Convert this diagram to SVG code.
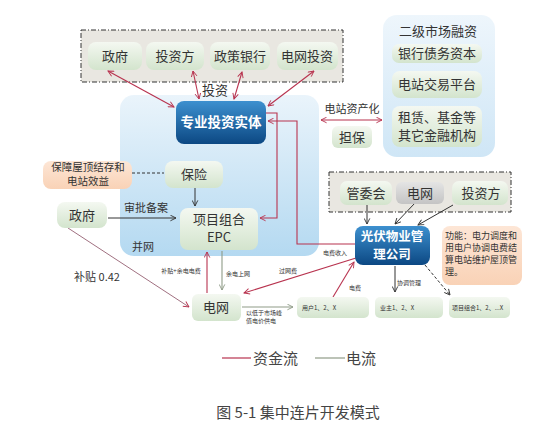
<svg xmlns="http://www.w3.org/2000/svg" width="548" height="426" viewBox="0 0 548 426">
<defs>
<linearGradient id="gGreen" x1="0" y1="0" x2="0" y2="1"><stop offset="0" stop-color="#f4f8f1"/><stop offset="1" stop-color="#d3e4cd"/></linearGradient>
<linearGradient id="gGrey" x1="0" y1="0" x2="0" y2="1"><stop offset="0" stop-color="#e4e4e4"/><stop offset="1" stop-color="#c4c4c4"/></linearGradient>
<linearGradient id="gBlue" x1="0" y1="0" x2="0" y2="1"><stop offset="0" stop-color="#3d90cf"/><stop offset="1" stop-color="#0c4883"/></linearGradient>
<linearGradient id="gRegion" x1="0" y1="0" x2="0" y2="1"><stop offset="0" stop-color="#eaf4fb"/><stop offset="1" stop-color="#b4d9f1"/></linearGradient>
<linearGradient id="gRegion2" x1="0" y1="0" x2="0" y2="1"><stop offset="0" stop-color="#eef6fc"/><stop offset="1" stop-color="#cfe6f6"/></linearGradient>
<linearGradient id="gOrange" x1="0" y1="0" x2="0" y2="1"><stop offset="0" stop-color="#fde6d6"/><stop offset="1" stop-color="#f9d2b6"/></linearGradient>
<marker id="aR" viewBox="0 0 10 10" refX="9" refY="5" markerWidth="7" markerHeight="7" orient="auto-start-reverse" markerUnits="userSpaceOnUse"><path d="M1,1 L9,5 L1,9" fill="none" stroke="#b8334f" stroke-width="1.3"/></marker>
<marker id="aG" viewBox="0 0 10 10" refX="9" refY="5" markerWidth="7" markerHeight="7" orient="auto" markerUnits="userSpaceOnUse"><path d="M1,1 L9,5 L1,9" fill="none" stroke="#8f9c88" stroke-width="1.3"/></marker>
<marker id="aK" viewBox="0 0 10 10" refX="9" refY="5" markerWidth="7" markerHeight="7" orient="auto" markerUnits="userSpaceOnUse"><path d="M1,1 L9,5 L1,9" fill="none" stroke="#333" stroke-width="1.3"/></marker>
<style>
text{font-family:"Noto Sans CJK SC","Noto Sans",sans-serif;fill:#333;text-anchor:middle}
.n{fill:url(#gGreen)}
.t13{font-size:13px}
.t11{font-size:11px}
.t10{font-size:10.5px}
.t6{font-size:6px}
.t9{font-size:9px;text-anchor:start}
.w{fill:#fff;font-weight:bold;font-size:13.5px}
.w2{fill:#fff;font-weight:bold;font-size:12.5px}
.red{stroke:#b8334f;stroke-width:1.1;fill:none}
.grn{stroke:#8f9c88;stroke-width:1.1;fill:none}
.blk{stroke:#333;stroke-width:1;fill:none}
</style>
</defs>
<rect width="548" height="426" fill="#fff"/>

<g id="regions">
<rect id="top-group" x="81" y="30" width="262" height="52" fill="#e9e7e1" stroke="#333" stroke-width="1" stroke-dasharray="5,2,1,2"/>
<rect id="invest-region" x="120" y="95" width="199" height="161" rx="14" fill="url(#gRegion)"/>
<rect id="secondary-region" x="383" y="15" width="112" height="142" rx="14" fill="url(#gRegion2)"/>
<rect id="mgmt-group" x="329" y="172" width="182" height="40" fill="#e9e7e1" stroke="#333" stroke-width="1" stroke-dasharray="5,2,1,2"/>
</g>

<g id="connectors">
<line class="red" x1="108" y1="71" x2="174" y2="107" marker-start="url(#aR)" marker-end="url(#aR)"/>
<line class="red" x1="193" y1="71" x2="199" y2="99" marker-start="url(#aR)" marker-end="url(#aR)"/>
<line class="red" x1="242" y1="72" x2="234" y2="99" marker-start="url(#aR)" marker-end="url(#aR)"/>
<line class="red" x1="314" y1="71" x2="268" y2="106" marker-start="url(#aR)" marker-end="url(#aR)"/>
<line class="red" x1="321" y1="120" x2="382" y2="120" marker-start="url(#aR)" marker-end="url(#aR)"/>
<polyline class="red" points="266,113 277,113 277,218 260,218" marker-end="url(#aR)"/>
<polyline class="red" points="355,244 297,244 297,121 268,121" marker-end="url(#aR)"/>
<line x1="132" y1="173" x2="164" y2="173" stroke="#333" stroke-width="1" stroke-dasharray="3,2"/>
<line class="blk" x1="195" y1="188" x2="195" y2="206" marker-end="url(#aK)"/>
<line class="blk" x1="108" y1="218" x2="176" y2="218" marker-end="url(#aK)"/>
<line class="red" x1="207" y1="293" x2="207" y2="252" marker-end="url(#aR)"/>
<line class="grn" x1="222" y1="251" x2="222" y2="290" marker-end="url(#aG)"/>
<line x1="68" y1="228" x2="189" y2="307" stroke="#a07080" stroke-width="1" marker-end="url(#aR)"/>
<line class="red" x1="356" y1="258" x2="244" y2="293" marker-end="url(#aR)"/>
<line class="red" x1="333" y1="297" x2="354" y2="262" marker-end="url(#aR)"/>
<line class="grn" x1="242" y1="307" x2="293" y2="307" marker-end="url(#aG)"/>
<line class="blk" x1="367" y1="205" x2="367" y2="224" marker-end="url(#aK)"/>
<line class="blk" x1="415" y1="203" x2="395" y2="224" marker-end="url(#aK)"/>
<line class="blk" x1="453" y1="205" x2="418" y2="225" marker-end="url(#aK)"/>
<line class="blk" x1="395" y1="266" x2="395" y2="292" marker-end="url(#aK)"/>
<line class="blk" x1="425" y1="265" x2="450" y2="295" stroke-dasharray="3,2" marker-end="url(#aK)"/>
</g>

<g id="labels">
<text class="t13" x="215" y="95">投资</text>
<text class="t11" x="352" y="113">电站资产化</text>
<text class="t11" x="146" y="212">审批备案</text>
<text class="t11" x="143" y="251" fill="#333">并网</text>
<text class="t11" x="97" y="281">补贴 0.42</text>
<text class="t6" x="181" y="273">补贴+余电电费</text>
<text class="t6" x="238" y="276">余电上网</text>
<text class="t6" x="288" y="273">过网费</text>
<text class="t6" x="335" y="255">电费收入</text>
<text class="t6" x="355" y="290">电费</text>
<text class="t6" x="409" y="285">协调管理</text>
<text class="t6" x="246" y="315" style="text-anchor:start">以低于市场峰</text>
<text class="t6" x="246" y="323" style="text-anchor:start">值电价供电</text>
</g>

<g id="n-gov-top"><rect class="n" x="88" y="42" width="54" height="28" rx="8"/><text class="t13" x="115" y="61">政府</text></g>
<g id="n-investor-top"><rect class="n" x="146" y="42" width="58" height="28" rx="8"/><text class="t13" x="175" y="61">投资方</text></g>
<g id="n-policy-bank"><rect class="n" x="210" y="42" width="60" height="28" rx="8"/><text class="t13" x="240" y="61">政策银行</text></g>
<g id="n-grid-invest"><rect class="n" x="277" y="42" width="61" height="28" rx="8"/><text class="t13" x="307" y="61">电网投资</text></g>

<g id="n-entity"><rect x="176" y="101" width="90" height="43" rx="8" fill="url(#gBlue)"/><text class="w" x="221" y="127">专业投资实体</text></g>

<g id="n-secondary-title"><text class="t13" x="438" y="36">二级市场融资</text></g>
<g id="n-bank-debt"><rect class="n" x="392" y="44" width="90" height="19" rx="7"/><text class="t13" x="437" y="58">银行债务资本</text></g>
<g id="n-trade"><rect class="n" x="392" y="71" width="90" height="27" rx="8"/><text class="t13" x="437" y="89">电站交易平台</text></g>
<g id="n-lease"><rect class="n" x="392" y="106" width="90" height="41" rx="8"/><text class="t13" x="437" y="122">租赁、基金等</text><text class="t13" x="437" y="140">其它金融机构</text></g>

<g id="n-guarantee"><rect class="n" x="332" y="126" width="40" height="22" rx="6"/><text class="t13" x="352" y="142">担保</text></g>

<g id="n-roof"><rect x="43" y="161" width="89" height="28" rx="8" fill="url(#gOrange)"/><text class="t10" x="88" y="171">保障屋顶结存和</text><text class="t10" x="88" y="185">电站效益</text></g>
<g id="n-insurance"><rect class="n" x="165" y="161" width="58" height="27" rx="8"/><text class="t13" x="194" y="179">保险</text></g>
<g id="n-gov-left"><rect class="n" x="57" y="202" width="50" height="26" rx="8"/><text class="t13" x="82" y="220">政府</text></g>
<g id="n-epc"><rect class="n" x="180" y="208" width="78" height="42" rx="8"/><text class="t13" x="219" y="224">项目组合</text><text class="t13" x="219" y="242">EPC</text></g>

<g id="n-committee"><rect class="n" x="340" y="181" width="52" height="24" rx="7"/><text class="t13" x="366" y="198">管委会</text></g>
<g id="n-grid-mgmt"><rect x="396" y="182" width="48" height="22" rx="6" fill="url(#gGrey)"/><text class="t13" x="420" y="198">电网</text></g>
<g id="n-investor-mgmt"><rect class="n" x="452" y="181" width="56" height="24" rx="7"/><text class="t13" x="481" y="198">投资方</text></g>

<g id="n-pv-mgmt"><rect x="355" y="226" width="75" height="39" rx="8" fill="url(#gBlue)"/><text class="w2" x="392" y="241">光伏物业管</text><text class="w2" x="392" y="259">理公司</text></g>
<g id="n-function"><rect x="442" y="226" width="80" height="59" rx="8" fill="url(#gOrange)"/>
<text class="t9" x="445" y="239">功能：电力调度和</text>
<text class="t9" x="445" y="251">用电户协调电费结</text>
<text class="t9" x="445" y="263">算电站维护屋顶管</text>
<text class="t9" x="445" y="275">理。</text></g>

<g id="n-grid-bottom"><rect class="n" x="192" y="294" width="49" height="27" rx="6"/><text class="t13" x="216" y="312">电网</text></g>
<g id="n-users"><rect class="n" x="297" y="297" width="72" height="21" rx="5"/><text class="t6" x="302" y="310" style="text-anchor:start">用户1、2、X</text></g>
<g id="n-owners"><rect class="n" x="375" y="297" width="68" height="21" rx="5"/><text class="t6" x="380" y="310" style="text-anchor:start">业主1、2、X</text></g>
<g id="n-projects"><rect class="n" x="449" y="297" width="61" height="21" rx="5"/><text class="t6" x="452" y="310" style="text-anchor:start">项目组合1、2、...X</text></g>

<g id="legend">
<line x1="222" y1="358" x2="251" y2="358" stroke="#b8334f" stroke-width="1.2"/>
<text x="253" y="364" style="font-size:15px;text-anchor:start;fill:#444">资金流</text>
<line x1="315" y1="358" x2="345" y2="358" stroke="#8f9c88" stroke-width="1.2"/>
<text x="346" y="364" style="font-size:15px;text-anchor:start;fill:#444">电流</text>
</g>
<g id="caption"><text x="298" y="418" style="font-size:15px;fill:#444">图 5-1 集中连片开发模式</text></g>
</svg>
